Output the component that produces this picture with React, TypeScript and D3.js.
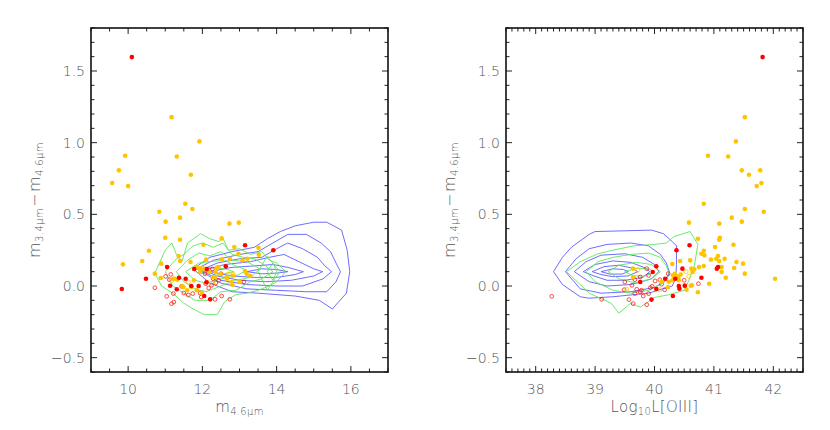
import React from "react";
import * as d3 from "d3";

// ---------- axis / tick data ----------
const yTickValues = [-0.5, 0, 0.5, 1.0, 1.5];
const yTickLabels = ["\u22120.5", "0.0", "0.5", "1.0", "1.5"];
const leftXTicks = [10, 12, 14, 16];
const rightXTicks = [38, 39, 40, 41, 42];
const leftXDomain = [9, 17];
const rightXDomain = [37.5, 42.5];
const yDomain = [-0.6, 1.8];

// ---------- left panel (m4.6 vs colour) ----------
const leftGoldFilled: [number, number][] = [
  [11.17, 1.178], [11.92, 1.009], [9.92, 0.909], [11.31, 0.904], [9.75, 0.807], [11.69, 0.776],
  [9.57, 0.718], [10.0, 0.697], [11.54, 0.574], [11.73, 0.537], [10.84, 0.518], [11.4, 0.477],
  [11.01, 0.449], [12.73, 0.435], [12.98, 0.442], [11.0, 0.337], [11.4, 0.323], [12.52, 0.332],
  [12.03, 0.288], [10.56, 0.246], [13.51, 0.267], [12.86, 0.272], [12.97, 0.225], [13.52, 0.218],
  [11.36, 0.209], [10.38, 0.174], [10.89, 0.156], [9.86, 0.151], [10.72, 0.086], [10.88, 0.056],
  [11.4, 0.174], [11.68, 0.167], [12.1, 0.184], [12.52, 0.186], [12.74, 0.19], [13.08, 0.179],
  [13.21, 0.19], [11.84, 0.132], [11.93, 0.126], [12.19, 0.098], [12.43, 0.132], [12.35, 0.098],
  [12.49, 0.084], [12.29, 0.063], [12.65, 0.063], [12.82, 0.072], [13.15, 0.105], [13.29, 0.072],
  [13.0, 0.028], [12.81, 0.009], [11.77, 0.04], [11.33, 0.044], [11.22, 0.051], [11.46, -0.002],
  [11.59, -0.03], [11.99, -0.049], [12.04, 0.121], [11.94, 0.098], [12.39, 0.128], [12.66, 0.051],
  [12.34, 0.063], [11.85, -0.03], [11.71, -0.007], [11.49, -0.007], [11.26, 0.051], [12.12, 0.028],
  [12.79, 0.028], [13.19, 0.086]
];
const leftRedFilled: [number, number][] = [
  [10.1, 1.597], [9.83, -0.021], [10.48, 0.051], [11.05, 0.132], [11.13, 0.002], [11.37, 0.058],
  [11.55, 0.051], [11.31, -0.023], [11.7, 0.0], [11.9, 0.0], [11.78, 0.119], [12.12, 0.119],
  [12.11, 0.026], [12.05, -0.07], [12.21, -0.093], [12.63, 0.137], [13.15, 0.284], [13.91, 0.249]
];
const leftRedOpen: [number, number][] = [
  [10.72, -0.012], [11.04, -0.072], [11.11, 0.044], [11.15, 0.081], [11.01, 0.067], [11.22, -0.053],
  [11.17, -0.123], [11.23, -0.112], [11.44, -0.002], [11.5, -0.049], [11.62, -0.063], [11.74, -0.053],
  [11.94, -0.049], [11.97, -0.077], [12.09, 0.016], [12.17, -0.014], [12.25, 0.005], [12.29, 0.051],
  [12.27, 0.119], [12.07, 0.086], [12.36, 0.021], [12.44, 0.04], [12.34, -0.093], [12.52, -0.07],
  [12.74, -0.093], [13.12, 0.028], [12.5, 0.086]
];
const leftGoldOpen: [number, number][] = [
  [12.83, 0.081], [12.69, 0.08], [12.29, 0.017], [11.18, 0.04], [11.62, 0.028]
];

// contours (left)
const leftBlue1: [number, number][] = [
  [11.75, 0.12], [12.2, 0.2], [12.8, 0.24], [13.4, 0.27], [13.75, 0.33], [14.1, 0.38], [14.5, 0.42],
  [15.0, 0.445], [15.35, 0.445], [15.75, 0.39], [15.9, 0.25], [15.97, 0.1], [15.88, -0.05], [15.5, -0.16],
  [15.15, -0.1], [14.5, -0.07], [13.5, -0.05], [12.8, -0.04], [12.2, 0.02]
];
const leftBlue2: [number, number][] = [
  [11.85, 0.12], [12.3, 0.18], [13.0, 0.22], [13.5, 0.24], [13.9, 0.3], [14.3, 0.36], [14.8, 0.36],
  [15.2, 0.3], [15.45, 0.24], [15.6, 0.16], [15.72, 0.1], [15.6, 0.03], [15.35, -0.04], [14.8, -0.04],
  [14.0, -0.03], [13.2, -0.02], [12.5, 0.02]
];
const leftBlue3: [number, number][] = [
  [11.95, 0.11], [12.4, 0.16], [13.0, 0.19], [13.6, 0.2], [14.0, 0.26], [14.3, 0.3], [14.7, 0.26],
  [15.1, 0.2], [15.3, 0.14], [15.48, 0.1], [15.25, 0.05], [14.7, 0.0], [14.0, 0.0], [13.2, 0.01], [12.5, 0.04]
];
const leftBlue4: [number, number][] = [
  [12.05, 0.11], [12.6, 0.15], [13.3, 0.17], [13.8, 0.2], [14.2, 0.22], [14.6, 0.17], [15.0, 0.12],
  [15.24, 0.1], [15.0, 0.07], [14.4, 0.04], [13.7, 0.03], [13.0, 0.04], [12.4, 0.07]
];
const leftBlue5: [number, number][] = [
  [12.2, 0.1], [12.8, 0.13], [13.4, 0.14], [13.9, 0.15], [14.3, 0.13], [14.72, 0.1], [14.5, 0.08],
  [14.0, 0.06], [13.4, 0.06], [12.8, 0.07]
];
const leftBlue6: [number, number][] = [
  [13.2, 0.1], [13.6, 0.12], [14.0, 0.115], [14.3, 0.1], [14.0, 0.09], [13.6, 0.085]
];
const leftGreen1: [number, number][] = [
  [10.72, 0.09], [11.0, 0.25], [11.18, 0.3], [11.3, 0.22], [11.45, 0.17], [11.6, 0.3], [11.95, 0.365],
  [12.2, 0.33], [12.45, 0.31], [12.55, 0.335], [12.7, 0.25], [13.0, 0.26], [13.3, 0.22], [13.6, 0.24],
  [13.8, 0.18], [14.0, 0.16], [14.25, 0.1], [14.0, 0.03], [13.8, 0.0], [13.5, -0.03], [13.2, -0.05],
  [12.9, -0.06], [12.6, -0.11], [12.4, -0.2], [12.05, -0.2], [11.75, -0.16], [11.5, -0.12], [11.2, -0.05],
  [10.9, 0.0]
];
const leftGreen2: [number, number][] = [
  [11.0, 0.1], [11.3, 0.19], [11.5, 0.22], [11.75, 0.28], [12.0, 0.3], [12.3, 0.27], [12.55, 0.3],
  [12.8, 0.22], [13.1, 0.2], [13.4, 0.19], [13.6, 0.16], [13.9, 0.1], [13.6, 0.05], [13.3, 0.03],
  [12.9, -0.03], [12.5, -0.04], [12.2, -0.1], [11.8, -0.1], [11.5, -0.05], [11.2, 0.0]
];
const leftGreen3: [number, number][] = [
  [11.3, 0.1], [11.6, 0.18], [11.9, 0.23], [12.2, 0.21], [12.5, 0.24], [12.8, 0.18], [13.2, 0.17],
  [13.55, 0.12], [13.3, 0.06], [12.9, 0.04], [12.5, 0.0], [12.1, -0.04], [11.8, -0.02], [11.5, 0.03]
];
const leftGreen4: [number, number][] = [
  [11.55, 0.1], [11.9, 0.16], [12.2, 0.17], [12.6, 0.18], [12.9, 0.14], [13.2, 0.11], [12.9, 0.07],
  [12.5, 0.05], [12.1, 0.02], [11.8, 0.04]
];
const leftGreen5: [number, number][] = [
  [11.9, 0.1], [12.2, 0.13], [12.6, 0.12], [12.85, 0.1], [12.5, 0.08], [12.2, 0.07]
];
const leftGreen6: [number, number][] = [
  [13.5, 0.1], [13.75, 0.21], [13.95, 0.14], [14.1, 0.1], [13.95, 0.05], [13.75, -0.03]
];
const leftGreen7: [number, number][] = [
  [13.75, 0.1], [13.9, 0.16], [14.0, 0.1], [13.9, 0.04]
];

// ---------- right panel (L[OIII] vs colour) ----------
const rightGoldFilled: [number, number][] = [
  [41.52, 1.178], [41.37, 1.009], [40.9, 0.909], [41.24, 0.904], [41.47, 0.807], [41.78, 0.807],
  [41.59, 0.776], [41.8, 0.718], [41.72, 0.697], [40.83, 0.574], [41.52, 0.537], [41.84, 0.518],
  [41.3, 0.477], [41.47, 0.449], [40.58, 0.442], [41.09, 0.435], [40.73, 0.33], [41.1, 0.337],
  [41.09, 0.323], [41.33, 0.288], [41.02, 0.272], [40.83, 0.246], [40.79, 0.225], [40.84, 0.214],
  [40.6, 0.179], [40.43, 0.174], [40.95, 0.184], [41.04, 0.19], [41.07, 0.209], [41.18, 0.19],
  [41.09, 0.174], [41.38, 0.167], [41.49, 0.156], [40.75, 0.132], [40.83, 0.139], [40.62, 0.121],
  [40.64, 0.098], [41.13, 0.132], [41.34, 0.126], [41.13, 0.098], [41.2, 0.058], [41.52, 0.086],
  [42.03, 0.051], [40.92, 0.016], [40.61, 0.002], [40.73, -0.044], [40.54, -0.026], [40.3, 0.153],
  [40.31, 0.075], [40.34, 0.085], [40.37, 0.07], [40.4, 0.06], [40.33, 0.055], [40.41, 0.04],
  [40.3, 0.04], [40.24, 0.03], [40.12, 0.028], [40.23, -0.007], [39.64, 0.121], [39.64, 0.063],
  [40.67, 0.116], [40.51, 0.005], [40.63, 0.005], [40.44, 0.08]
];
const rightRedFilled: [number, number][] = [
  [41.82, 1.597], [40.59, 0.284], [40.37, 0.249], [40.47, 0.121], [40.79, 0.058], [41.05, 0.121],
  [41.07, 0.132], [40.03, 0.137], [40.18, 0.051], [40.35, 0.051], [40.41, 0.0], [40.51, 0.002],
  [40.42, -0.019], [40.31, -0.07], [40.03, -0.021], [39.95, -0.095], [39.76, 0.028], [39.97, 0.098]
];
const rightRedOpen: [number, number][] = [
  [38.27, -0.072], [39.11, -0.093], [39.49, -0.026], [39.57, -0.095], [39.64, -0.123], [39.67, -0.053],
  [39.7, -0.023], [39.62, 0.005], [39.5, 0.028], [39.67, 0.044], [39.76, -0.042], [39.78, -0.03],
  [39.81, -0.07], [39.87, -0.13], [39.9, -0.053], [39.93, -0.012], [39.96, -0.002], [39.87, 0.121],
  [39.9, 0.074], [40.09, 0.044], [40.17, -0.026], [40.12, 0.012], [40.23, 0.086], [40.5, 0.04],
  [40.74, 0.016], [39.76, 0.063], [40.01, 0.035]
];
const rightGoldOpen: [number, number][] = [
  [39.53, -0.023], [40.58, 0.067], [40.09, -0.026], [40.53, 0.1], [39.72, 0.11]
];

// contours (right)
const rightBlue1: [number, number][] = [
  [38.3, 0.1], [38.45, 0.2], [38.6, 0.27], [38.9, 0.36], [39.0, 0.38], [39.5, 0.385], [39.95, 0.39],
  [40.15, 0.365], [40.3, 0.31], [40.37, 0.28], [40.37, 0.15], [40.36, 0.06], [40.3, 0.0], [39.9, -0.05],
  [39.3, -0.075], [38.9, -0.085], [38.75, -0.075], [38.45, 0.01]
];
const rightBlue2: [number, number][] = [
  [38.5, 0.1], [38.68, 0.19], [38.9, 0.26], [39.2, 0.29], [39.6, 0.3], [39.9, 0.28], [40.1, 0.22],
  [40.2, 0.16], [40.25, 0.1], [40.2, 0.04], [40.0, -0.01], [39.6, -0.04], [39.1, -0.05], [38.75, -0.02]
];
const rightBlue3: [number, number][] = [
  [38.65, 0.1], [38.85, 0.17], [39.1, 0.215], [39.5, 0.225], [39.8, 0.2], [40.0, 0.15], [40.07, 0.1],
  [39.95, 0.05], [39.6, 0.01], [39.2, 0.0], [38.9, 0.03]
];
const rightBlue4: [number, number][] = [
  [38.8, 0.1], [39.0, 0.15], [39.3, 0.175], [39.6, 0.165], [39.85, 0.125], [39.92, 0.1], [39.8, 0.06],
  [39.5, 0.04], [39.2, 0.04], [38.98, 0.07]
];
const rightBlue5: [number, number][] = [
  [38.95, 0.1], [39.15, 0.135], [39.4, 0.145], [39.62, 0.125], [39.72, 0.1], [39.55, 0.07], [39.3, 0.065],
  [39.1, 0.08]
];
const rightBlue6: [number, number][] = [
  [39.1, 0.1], [39.3, 0.12], [39.48, 0.115], [39.56, 0.1], [39.45, 0.083], [39.25, 0.083]
];
const rightGreen1: [number, number][] = [
  [38.52, 0.1], [38.75, 0.17], [39.05, 0.225], [39.3, 0.25], [39.65, 0.28], [40.0, 0.29], [40.2, 0.3],
  [40.33, 0.345], [40.6, 0.38], [40.73, 0.29], [40.67, 0.14], [40.58, 0.04], [40.5, -0.03], [40.25, -0.06],
  [40.0, -0.08], [39.76, -0.148], [39.6, -0.12], [39.4, -0.19], [39.27, -0.12], [38.9, -0.05]
];
const rightGreen2: [number, number][] = [
  [38.85, 0.1], [39.05, 0.17], [39.3, 0.2], [39.6, 0.22], [39.9, 0.23], [40.1, 0.2], [40.2, 0.14],
  [40.25, 0.08], [40.15, 0.02], [39.9, -0.03], [39.6, -0.05], [39.3, -0.03], [39.0, 0.03]
];
const rightGreen3: [number, number][] = [
  [39.22, 0.1], [39.4, 0.145], [39.7, 0.165], [39.95, 0.15], [40.1, 0.1], [39.95, 0.05], [39.7, 0.02],
  [39.4, 0.05]
];
const rightGreen4: [number, number][] = [
  [39.5, 0.1], [39.7, 0.125], [39.9, 0.12], [40.0, 0.1], [39.85, 0.07], [39.65, 0.07]
];

// ---------- layout ----------
const W = 830, H = 430;
const TOP = 28, BOTTOM = 372;
const LEFT_X0 = 91, LEFT_X1 = 388;
const RIGHT_X0 = 506, RIGHT_X1 = 803;

const BLUE = "#5c5cff";
const GREEN = "#5ee65e";
const RED = "#ff0000";
const GOLD = "#ffc400";
const TEXT = "#555";
const FONT = "'DejaVu Sans', 'Liberation Sans', sans-serif";

type Pt = [number, number];

function Panel(props: {
  id: string;
  x0: number; x1: number;
  xDomain: number[];
  xMajor: number[];
  xMinorStep: number;
  blue: Pt[][]; green: Pt[][];
  goldFilled: Pt[]; redFilled: Pt[]; redOpen: Pt[]; goldOpen: Pt[];
  xLabel: React.ReactNode;
}) {
  const { x0, x1 } = props;
  const x = d3.scaleLinear().domain(props.xDomain).range([x0, x1]);
  const y = d3.scaleLinear().domain(yDomain).range([BOTTOM, TOP]);
  const line = d3.line<Pt>().x(d => x(d[0])).y(d => y(d[1])).curve(d3.curveLinearClosed);

  const eps = 1e-6;
  const xMinors = d3.range(props.xDomain[0], props.xDomain[1] + eps, props.xMinorStep)
    .filter(v => !props.xMajor.some(m => Math.abs(m - v) < eps));
  const yMinors = d3.range(-0.6, 1.8 + eps, 0.1)
    .filter(v => !yTickValues.some(m => Math.abs(m - v) < eps));
  const MAJ = 6, MIN = 3.5;

  return (
    <g>
      <defs>
        <clipPath id={props.id}>
          <rect x={x0} y={TOP} width={x1 - x0} height={BOTTOM - TOP} />
        </clipPath>
      </defs>
      <g clipPath={`url(#${props.id})`}>
        {props.blue.map((c, i) => (
          <path key={"b" + i} d={line(c) || ""} fill="none" stroke={BLUE} strokeWidth={0.9} />
        ))}
        {props.green.map((c, i) => (
          <path key={"g" + i} d={line(c) || ""} fill="none" stroke={GREEN} strokeWidth={0.9} />
        ))}
        {props.redOpen.map((p, i) => (
          <circle key={"ro" + i} cx={x(p[0])} cy={y(p[1])} r={1.9} fill="none" stroke={RED} strokeWidth={0.7} />
        ))}
        {props.goldOpen.map((p, i) => (
          <circle key={"go" + i} cx={x(p[0])} cy={y(p[1])} r={2.1} fill="none" stroke={GOLD} strokeWidth={0.8} />
        ))}
        {props.goldFilled.map((p, i) => (
          <circle key={"gf" + i} cx={x(p[0])} cy={y(p[1])} r={2.3} fill={GOLD} />
        ))}
        {props.redFilled.map((p, i) => (
          <circle key={"rf" + i} cx={x(p[0])} cy={y(p[1])} r={2.3} fill={RED} />
        ))}
      </g>
      {/* ticks */}
      <g stroke="#222" strokeWidth={1}>
        {props.xMajor.map(v => (
          <g key={"xM" + v}>
            <line x1={x(v)} x2={x(v)} y1={BOTTOM} y2={BOTTOM - MAJ} />
            <line x1={x(v)} x2={x(v)} y1={TOP} y2={TOP + MAJ} />
          </g>
        ))}
        {xMinors.map((v, i) => (
          <g key={"xm" + i}>
            <line x1={x(v)} x2={x(v)} y1={BOTTOM} y2={BOTTOM - MIN} />
            <line x1={x(v)} x2={x(v)} y1={TOP} y2={TOP + MIN} />
          </g>
        ))}
        {yTickValues.map(v => (
          <g key={"yM" + v}>
            <line x1={x0} x2={x0 + MAJ} y1={y(v)} y2={y(v)} />
            <line x1={x1} x2={x1 - MAJ} y1={y(v)} y2={y(v)} />
          </g>
        ))}
        {yMinors.map((v, i) => (
          <g key={"ym" + i}>
            <line x1={x0} x2={x0 + MIN} y1={y(v)} y2={y(v)} />
            <line x1={x1} x2={x1 - MIN} y1={y(v)} y2={y(v)} />
          </g>
        ))}
      </g>
      <rect x={x0} y={TOP} width={x1 - x0} height={BOTTOM - TOP} fill="none" stroke="#111" strokeWidth={1.6} />
      {/* tick labels */}
      <g fill={TEXT} fontFamily={FONT} fontSize={14} fontWeight={300}>
        {yTickValues.map((v, i) => (
          <text key={"yl" + v} x={x0 - 6} y={y(v) + 5} textAnchor="end">{yTickLabels[i]}</text>
        ))}
        {props.xMajor.map(v => (
          <text key={"xl" + v} x={x(v)} y={394} textAnchor="middle">{v}</text>
        ))}
      </g>
      {/* y label */}
      <text transform={`translate(${x0 - 51},${(TOP + BOTTOM) / 2}) rotate(-90)`} textAnchor="middle"
        fill={TEXT} fontFamily={FONT} fontSize={16} fontWeight={300} letterSpacing={0.4}>
        <tspan>m</tspan>
        <tspan fontSize={10} dy={3}>3.4μm</tspan>
        <tspan dy={-3} dx={1}>−</tspan>
        <tspan dx={1}>m</tspan>
        <tspan fontSize={10} dy={3}>4.6μm</tspan>
      </text>
      <text x={(x0 + x1) / 2} y={412} textAnchor="middle" fill={TEXT} fontFamily={FONT} fontSize={15}
        fontWeight={300} letterSpacing={0.3}>
        {props.xLabel}
      </text>
    </g>
  );
}

export default function App() {
  return (
    <svg width={W} height={H} style={{ position: "absolute", left: 0, top: 0, background: "#fff" }}>
      <rect x={0} y={0} width={W} height={H} fill="#fff" />
      <Panel
        id="clipL" x0={LEFT_X0} x1={LEFT_X1}
        xDomain={leftXDomain} xMajor={leftXTicks} xMinorStep={0.5}
        blue={[leftBlue1, leftBlue2, leftBlue3, leftBlue4, leftBlue5, leftBlue6]}
        green={[leftGreen1, leftGreen2, leftGreen3, leftGreen4, leftGreen5, leftGreen6, leftGreen7]}
        goldFilled={leftGoldFilled} redFilled={leftRedFilled} redOpen={leftRedOpen} goldOpen={leftGoldOpen}
        xLabel={<><tspan>m</tspan><tspan fontSize={10} dy={3}>4.6μm</tspan></>}
      />
      <Panel
        id="clipR" x0={RIGHT_X0} x1={RIGHT_X1}
        xDomain={rightXDomain} xMajor={rightXTicks} xMinorStep={0.1}
        blue={[rightBlue1, rightBlue2, rightBlue3, rightBlue4, rightBlue5, rightBlue6]}
        green={[rightGreen1, rightGreen2, rightGreen3, rightGreen4]}
        goldFilled={rightGoldFilled} redFilled={rightRedFilled} redOpen={rightRedOpen} goldOpen={rightGoldOpen}
        xLabel={<><tspan>Log</tspan><tspan fontSize={10} dy={3}>10</tspan><tspan dy={-3}>L[OIII]</tspan></>}
      />
    </svg>
  );
}
